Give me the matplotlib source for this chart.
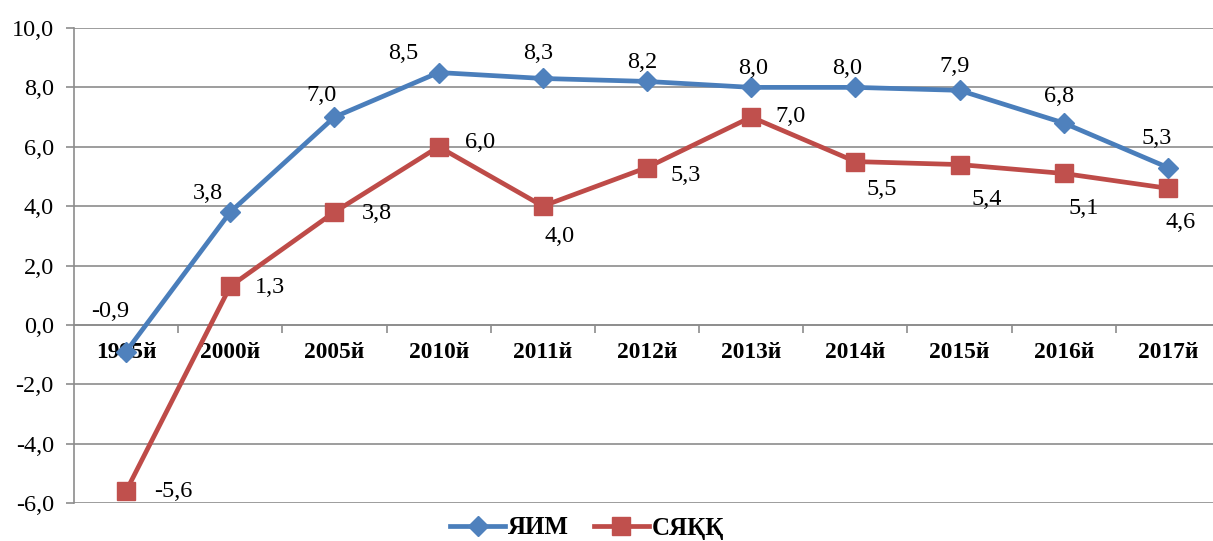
import numpy as np
import matplotlib.pyplot as plt
from matplotlib.ticker import FixedLocator, FuncFormatter

plt.rcParams['font.family'] = ['Liberation Serif', 'DejaVu Serif']

years = ['1995й', '2000й', '2005й', '2010й', '2011й', '2012й',
         '2013й', '2014й', '2015й', '2016й', '2017й']
yim = [-0.9, 3.8, 7.0, 8.5, 8.3, 8.2, 8.0, 8.0, 7.9, 6.8, 5.3]
syakk = [-5.6, 1.3, 3.8, 6.0, 4.0, 5.3, 7.0, 5.5, 5.4, 5.1, 4.6]

# label offsets in pixels (dx, dy), hand placed like the original
yim_off = [(-16, 40), (-22, 19), (-13, 22), (-35, 19), (-5, 25), (-5, 19),
           (2, 19), (-8, 19), (-5, 24), (-5, 27), (-11, 29)]
syakk_off = [(47, 0), (40, -1), (42, -1), (41, 4), (17, -30), (39, -8),
             (39, 1), (26, -28), (27, -35), (20, -35), (13, -34)]

blue = '#4A7EBB'
red = '#BE4B48'
grey = '#8C8C8C'

fig = plt.figure(figsize=(12.13, 5.41), dpi=100)
ax = fig.add_axes([74/1213, 38/541, 1 - 74/1213, (503-28)/541])

x = np.arange(len(years))
ax.plot(x, yim, color=blue, lw=3.4, marker='D', ms=10.5, mfc='#4F81BD',
        mec='#4F81BD', label='ЯИМ', zorder=3)
ax.plot(x, syakk, color=red, lw=3.4, marker='s', ms=12.5, mfc='#C0504D',
        mec='#C0504D', label='СЯҚҚ', zorder=3)

fmt = lambda v: ('%.1f' % v).replace('.', ',')
for i in range(len(x)):
    ax.annotate(fmt(yim[i]), (x[i], yim[i]), xytext=yim_off[i],
                textcoords='offset pixels', ha='center', va='center',
                fontsize=17.5)
    ax.annotate(fmt(syakk[i]), (x[i], syakk[i]), xytext=syakk_off[i],
                textcoords='offset pixels', ha='center', va='center',
                fontsize=17.5)

ax.set_ylim(-6, 10)
ax.set_xlim(-0.5, 10.5 - 7/104)
ax.set_yticks(np.arange(-6, 10.1, 2))
ax.yaxis.set_major_formatter(FuncFormatter(lambda v, p: fmt(v)))
ax.tick_params(axis='y', length=6, color=grey, width=1.2, pad=8.5,
               labelsize=17.5)
ax.grid(axis='y', color=grey, lw=1.2)
ax.set_axisbelow(True)

# category axis crossing at zero
ax.spines['bottom'].set_position(('data', 0))
ax.spines['bottom'].set_color(grey)
ax.spines['bottom'].set_linewidth(1.2)
ax.spines['left'].set_color(grey)
ax.spines['left'].set_linewidth(1.2)
ax.spines['top'].set_visible(False)
ax.spines['right'].set_visible(False)
ax.xaxis.set_major_locator(FixedLocator(np.arange(0.5, 10, 1)))
ax.xaxis.set_major_formatter(FuncFormatter(lambda v, p: ''))
ax.xaxis.set_minor_locator(FixedLocator(x))
ax.set_xticklabels(years, minor=True, fontweight='bold', fontsize=16.8)
ax.tick_params(axis='x', which='major', length=6, color=grey, width=1.2,
               direction='out')
ax.tick_params(axis='x', which='minor', length=0, pad=12)
for lab in ax.get_xticklabels(minor=True):
    lab.set_zorder(4)

leg = fig.legend(loc='center', bbox_to_anchor=(0.484, 1 - 528/541), ncol=2,
                 frameon=False, prop={'weight': 'bold', 'size': 18},
                 handlelength=2.2, columnspacing=1.0, handletextpad=0.1)

fig.savefig('out.png', dpi=100)
